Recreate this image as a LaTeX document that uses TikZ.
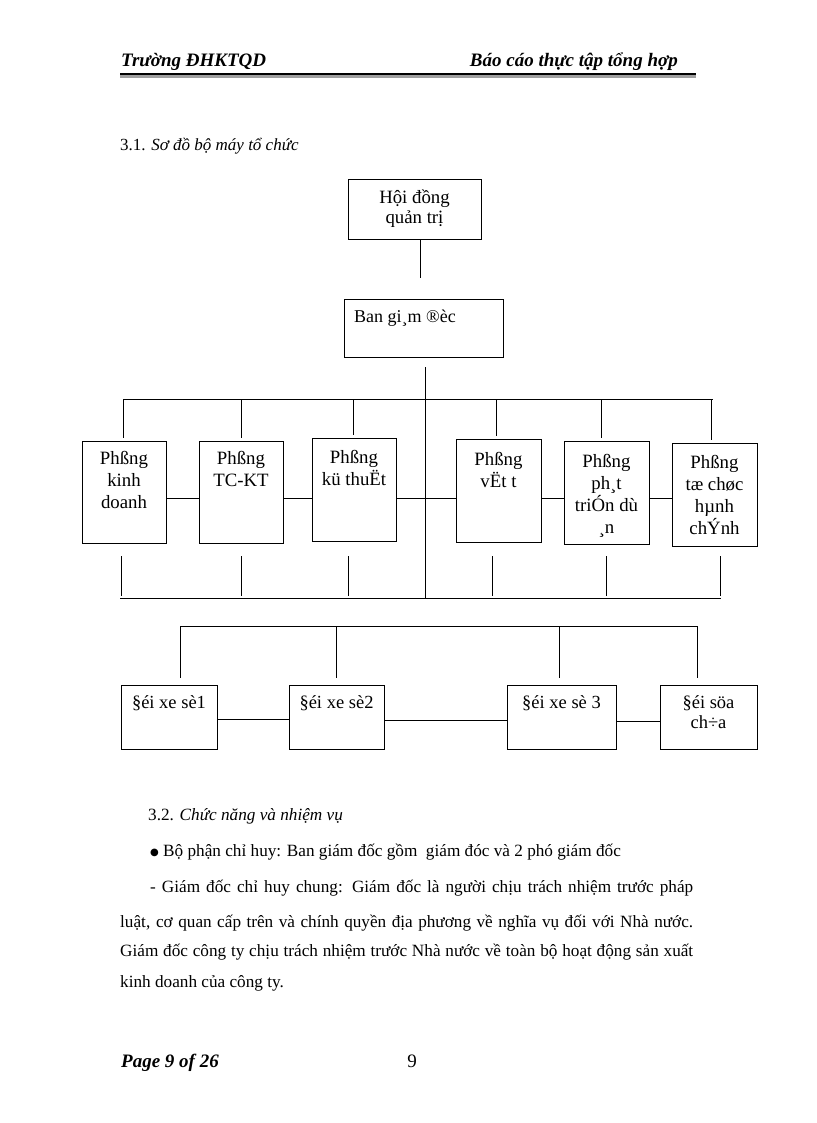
\documentclass[tikz,border=0pt]{standalone}
\usepackage{fontspec}
\setmainfont{Liberation Serif}
\newfontfamily\dejavu{DejaVu Sans}
\usetikzlibrary{calc}
\begin{document}
\begin{tikzpicture}[x=1pt,y=-1pt,
  box/.style={draw, line width=0.9pt, inner sep=0pt, anchor=north west},
  conn/.style={line width=0.9pt},
  lbl/.style={inner sep=0pt, anchor=north, align=center, font=\fontsize{18.8}{22}\selectfont},
  lblb/.style={inner sep=0pt, anchor=north, align=center, font=\fontsize{18.5}{20}\selectfont},
  body/.style={inner sep=0pt, anchor=base west, font=\fontsize{17.2}{20}\selectfont},
  head/.style={inner sep=0pt, font=\fontsize{19}{22}\selectfont\bfseries\itshape}]
\useasboundingbox (0,0) rectangle (816,1123);

% header
\node[head, anchor=base west] (hl) at (121,67) {Trường ĐHKTQD};
\node[head, anchor=base east] (hr) at (678,67) {Báo cáo thực tập tổng hợp};
\coordinate (hlineL) at (120,77);
\coordinate (hlineR) at (696,77);
\draw[line width=3pt, gray!75] (hlineL) -- (hlineR);
\draw[line width=1.8pt, black] ([yshift=2.6pt]hlineL) -- ([yshift=2.6pt]hlineR);

\node[body, font=\fontsize{17}{20}\selectfont] (s31) at (120,151) {3.1. \textit{Sơ đồ bộ máy tổ chức}};

% boxes
\node[box, minimum width=133pt, minimum height=60pt] (hdqt) at (348,179) {};
\node[box, minimum width=159pt, minimum height=58pt] (bgd) at (344,299) {};
\node[box, minimum width=84pt, minimum height=102pt] (p1) at (82,441) {};
\node[box, minimum width=84pt, minimum height=102pt] (p2) at (199,441) {};
\node[box, minimum width=84pt, minimum height=103pt] (p3) at (312,438) {};
\node[box, minimum width=85pt, minimum height=103pt] (p4) at (456,439) {};
\node[box, minimum width=85pt, minimum height=103pt] (p5) at (564,441) {};
\node[box, minimum width=85pt, minimum height=103pt] (p6) at (672,443) {};
\node[box, minimum width=96pt, minimum height=64pt] (d1) at (121,685) {};
\node[box, minimum width=95pt, minimum height=64pt] (d2) at (289,685) {};
\node[box, minimum width=109pt, minimum height=64pt] (d3) at (507,685) {};
\node[box, minimum width=97pt, minimum height=64pt] (d4) at (660,685) {};

% labels
\node[lbl, font=\fontsize{18.8}{20}\selectfont] (thdqt) at (414.5,190) {Hội đồng\\quản trị};
\node[inner sep=0pt, anchor=base west, font=\fontsize{18}{22}\selectfont] (tbgd) at (354,322) {Ban gi¸m ®èc};
\node[lbl] (tp1) at (124,451.5) {Phßng\\kinh\\doanh};
\node[lbl] (tp2) at (241,451.5) {Phßng\\TC-KT};
\node[lbl] (tp3) at (354,450.5) {Phßng\\kü thuËt};
\node[lbl] (tp4) at (498.5,452.5) {Phßng\\vËt t};
\node[lbl] (tp5) at (606.5,454.5) {Phßng\\ph¸t\\triÓn dù\\¸n};
\node[lbl] (tp6) at (714.5,455.5) {Phßng\\tæ chøc\\hµnh\\chÝnh};
\node[lblb] (td1) at (169,695.5) {§éi xe sè1};
\node[lblb] (td2) at (336.5,695.5) {§éi xe sè2};
\node[lblb] (td3) at (561.5,695.5) {§éi xe sè 3};
\node[lblb] (td4) at (708.5,695.5) {§éi söa\\ch÷a};

% connectors
\coordinate (a1) at (420,278);
\draw[conn] (a1 |- hdqt.south) -- (a1);
\coordinate (tt) at (425,367);
\coordinate (tb) at (425,598);
\draw[conn] (tt) -- (tb);
\coordinate (busL) at (123,399);
\coordinate (busR) at (713,399);
\draw[conn] (busL) -- (busR);
\foreach \n/\x in {p1/123,p2/241,p3/353,p4/496,p5/601,p6/711}
  \draw[conn] (\x,399) -- ([yshift=3pt]\n.north -| \x,0);
\coordinate (h2) at (0,498);
\draw[conn] (p1.east |- h2) -- (p2.west |- h2);
\draw[conn] (p2.east |- h2) -- (p3.west |- h2);
\draw[conn] (p3.east |- h2) -- (p4.west |- h2);
\draw[conn] (p4.east |- h2) -- (p5.west |- h2);
\draw[conn] (p5.east |- h2) -- (p6.west |- h2);
\foreach \x in {121,241,348,492,606,720}
  \draw[conn] (\x,556) -- (\x,596);
\coordinate (bbL) at (120,598);
\coordinate (bbR) at (721,598);
\draw[conn] (bbL) -- (bbR);

\coordinate (cbL) at (180,626);
\coordinate (cbR) at (697,626);
\draw[conn] (cbL) -- (cbR);
\foreach \n/\x in {d1/180,d2/336,d3/559,d4/697}
  \draw[conn] (\x,626) -- ([yshift=7pt]\n.north -| \x,0);
\draw[conn] (d1.east |- 0,719) -- (d2.west |- 0,719);
\draw[conn] (d2.east |- 0,720) -- (d3.west |- 0,720);
\draw[conn] (d3.east |- 0,721) -- (d4.west |- 0,721);

% body text
\node[body] (s32) at (148,820) {3.2. \textit{Chức năng và nhiệm vụ}};
\node[body] (l1) at (150,856) {{\dejavu\fontsize{10}{10}\selectfont\raisebox{0.5pt}{●}} Bộ phận\ chỉ huy: Ban giám đốc gồm\ \ giám đóc và 2 phó giám đốc};
\node[body] (l2) at (150,892) {\makebox[543pt][s]{- Giám đốc chỉ huy chung: Giám đốc là người chịu trách nhiệm trước pháp}};
\node[body] (l3) at (120,927) {\makebox[573pt][s]{luật, cơ quan cấp trên và chính quyền địa phương về nghĩa vụ đối với Nhà nước.}};
\node[body] (l4) at (120,956) {\makebox[573pt][s]{Giám đốc công ty chịu trách nhiệm trước Nhà nước về toàn bộ hoạt động sản xuất}};
\node[body] (l5) at (120,987) {kinh doanh của công ty.};

% footer
\node[head, anchor=base west] (pg) at (121,1067) {Page 9 of 26};
\node[inner sep=0pt, anchor=base, font=\fontsize{19}{22}\selectfont] (pn) at (412,1067) {9};
\end{tikzpicture}
\end{document}
